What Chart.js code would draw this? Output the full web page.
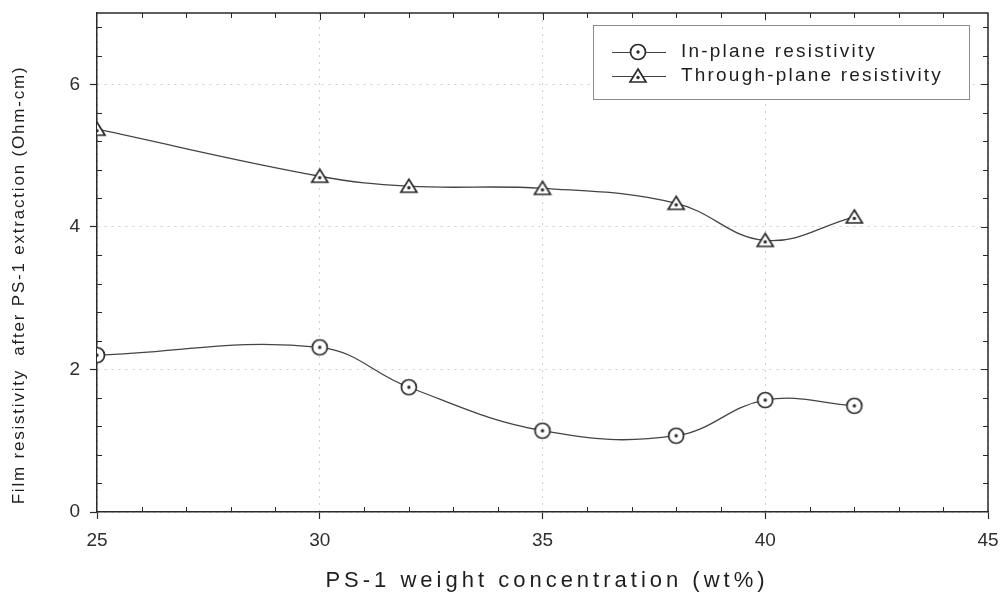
<!DOCTYPE html>
<html>
<head>
<meta charset="utf-8">
<script src="https://cdn.jsdelivr.net/npm/chart.js@4.4.1/dist/chart.umd.min.js"></script>
<style>
  html, body { margin: 0; padding: 0; background: #fff; }
  #wrap { width: 1004px; height: 595px; position: relative; }
</style>
</head>
<body>
<div id="wrap"><canvas id="c" width="1004" height="595"></canvas></div>
<script>
// PS-1 loading (wt%) and the film resistivity measured after extraction
const concentrations = [25, 30, 32, 35, 38, 40, 42];
const inPlane = [2.20, 2.31, 1.75, 1.14, 1.07, 1.57, 1.49];
const throughPlane = [5.37, 4.71, 4.57, 4.54, 4.33, 3.81, 4.14];
const seriesLabels = ['In-plane resistivity', 'Through-plane resistivity'];
const xTitle = 'PS-1 weight concentration (wt%)';
const yTitle = 'Film resistivity  after PS-1 extraction (Ohm-cm)';

const INK = '#2a2a2a';
const FONT = '"Liberation Sans", Arial, sans-serif';

// open symbols with a centre dot
function makeMarker(kind) {
  const s = 20, cv = document.createElement('canvas');
  cv.width = s; cv.height = s;
  const g = cv.getContext('2d');
  g.strokeStyle = INK; g.fillStyle = '#fff'; g.lineWidth = 1.7;
  g.beginPath();
  if (kind === 'circle') {
    g.arc(10, 10, 7.5, 0, Math.PI * 2);
  } else {
    g.moveTo(10, 3); g.lineTo(18, 16); g.lineTo(2, 16); g.closePath();
  }
  g.fill(); g.stroke();
  g.fillStyle = INK;
  g.beginPath();
  g.arc(10, kind === 'circle' ? 10 : 11.5, 1.7, 0, Math.PI * 2);
  g.fill();
  return cv;
}
const circleMark = makeMarker('circle');
const triMark = makeMarker('triangle');

const toPoints = (ys) => concentrations.map((x, i) => ({ x, y: ys[i] }));

// frame, minor ticks, in-plot legend and axis titles
const framePlugin = {
  id: 'frame',
  afterDraw(chart) {
    const { ctx, chartArea: a, scales: { x, y } } = chart;
    ctx.save();
    ctx.strokeStyle = INK;
    ctx.lineWidth = 1.5;
    ctx.beginPath();
    ctx.moveTo(a.left, a.top); ctx.lineTo(a.right, a.top); ctx.lineTo(a.right, a.bottom);
    ctx.stroke();

    ctx.lineWidth = 1;
    ctx.beginPath();
    for (let v = 26; v < 45; v++) {
      if (v % 5 === 0) continue;
      const px = Math.round(x.getPixelForValue(v)) + 0.5;
      ctx.moveTo(px, a.bottom); ctx.lineTo(px, a.bottom - 5);
      ctx.moveTo(px, a.top); ctx.lineTo(px, a.top + 5);
    }
    for (let k = 1; k * 0.4 < 7; k++) {
      if (k % 5 === 0) continue;
      const py = Math.round(y.getPixelForValue(k * 0.4)) + 0.5;
      ctx.moveTo(a.left, py); ctx.lineTo(a.left + 5, py);
      ctx.moveTo(a.right, py); ctx.lineTo(a.right - 5, py);
    }
    // major ticks on the top and right edges
    [30, 35, 40].forEach(v => {
      const px = Math.round(x.getPixelForValue(v)) + 0.5;
      ctx.moveTo(px, a.top); ctx.lineTo(px, a.top + 7);
    });
    [2, 4, 6].forEach(v => {
      const py = Math.round(y.getPixelForValue(v)) + 0.5;
      ctx.moveTo(a.right, py); ctx.lineTo(a.right - 7, py);
    });
    ctx.stroke();

    // legend box
    const bx = 593, by = 25, bw = 376, bh = 74;
    ctx.fillStyle = '#fff';
    ctx.fillRect(bx, by, bw, bh);
    ctx.strokeStyle = '#8a8a8a';
    ctx.lineWidth = 1;
    ctx.strokeRect(bx + 0.5, by + 0.5, bw, bh);
    const rows = [
      { y: 52, mark: circleMark, text: seriesLabels[0] },
      { y: 76, mark: triMark, text: seriesLabels[1] }
    ];
    ctx.font = '19px ' + FONT;
    ctx.letterSpacing = '2.2px';
    ctx.textBaseline = 'middle';
    ctx.textAlign = 'left';
    rows.forEach(r => {
      ctx.strokeStyle = '#444';
      ctx.lineWidth = 1.2;
      ctx.beginPath();
      ctx.moveTo(612, r.y + 0.5); ctx.lineTo(666, r.y + 0.5);
      ctx.stroke();
      ctx.drawImage(r.mark, 638 - 10, r.y - 10);
      ctx.fillStyle = '#1e1e1e';
      ctx.fillText(r.text, 681, r.y);
    });

    // x axis title
    ctx.font = '22px ' + FONT;
    ctx.letterSpacing = '4px';
    ctx.textAlign = 'center';
    ctx.textBaseline = 'middle';
    ctx.fillStyle = '#1e1e1e';
    ctx.fillText(xTitle, 547, 581);

    // y axis title
    ctx.font = '17px ' + FONT;
    ctx.letterSpacing = '1.8px';
    ctx.translate(19, 285);
    ctx.rotate(-Math.PI / 2);
    ctx.fillText(yTitle, 0, 0);
    ctx.restore();
  }
};

const grid = {
  display: true,
  drawOnChartArea: true,
  color: 'rgba(175,175,175,0.6)',
  tickColor: INK,
  tickLength: 7,
  tickWidth: 1.2,
  lineWidth: 1
};

new Chart(document.getElementById('c'), {
  type: 'line',
  data: {
    datasets: [
      {
        label: seriesLabels[0],
        data: toPoints(inPlane),
        borderColor: '#444',
        borderWidth: 1.3,
        tension: 0.4,
        pointStyle: circleMark,
        pointRadius: 8
      },
      {
        label: seriesLabels[1],
        data: toPoints(throughPlane),
        borderColor: '#444',
        borderWidth: 1.3,
        tension: 0.4,
        pointStyle: triMark,
        pointRadius: 8
      }
    ]
  },
  options: {
    responsive: false,
    animation: false,
    events: [],
    layout: { padding: { left: 0, top: 13, right: 16, bottom: 0 } },
    plugins: { legend: { display: false }, tooltip: { enabled: false } },
    scales: {
      x: {
        type: 'linear',
        min: 25, max: 45,
        afterFit(s) { s.height = 83; s.paddingLeft = 0; s.paddingRight = 0; },
        border: { display: true, color: INK, width: 1.5, dash: [2, 5] },
        grid: grid,
        ticks: {
          stepSize: 5,
          padding: 10,
          color: '#2e2e2e',
          font: { family: '"Liberation Sans Narrow", "Liberation Sans", Arial, sans-serif', size: 19 }
        }
      },
      y: {
        min: 0, max: 7,
        afterFit(s) { s.width = 97; s.paddingTop = 0; s.paddingBottom = 0; },
        border: { display: true, color: INK, width: 1.5, dash: [2, 5] },
        grid: grid,
        afterBuildTicks(s) { s.ticks = [0, 2, 4, 6].map(v => ({ value: v })); },
        ticks: {
          padding: 10,
          color: '#2e2e2e',
          font: { family: FONT, size: 19 }
        }
      }
    }
  },
  plugins: [framePlugin]
});
</script>
</body>
</html>
